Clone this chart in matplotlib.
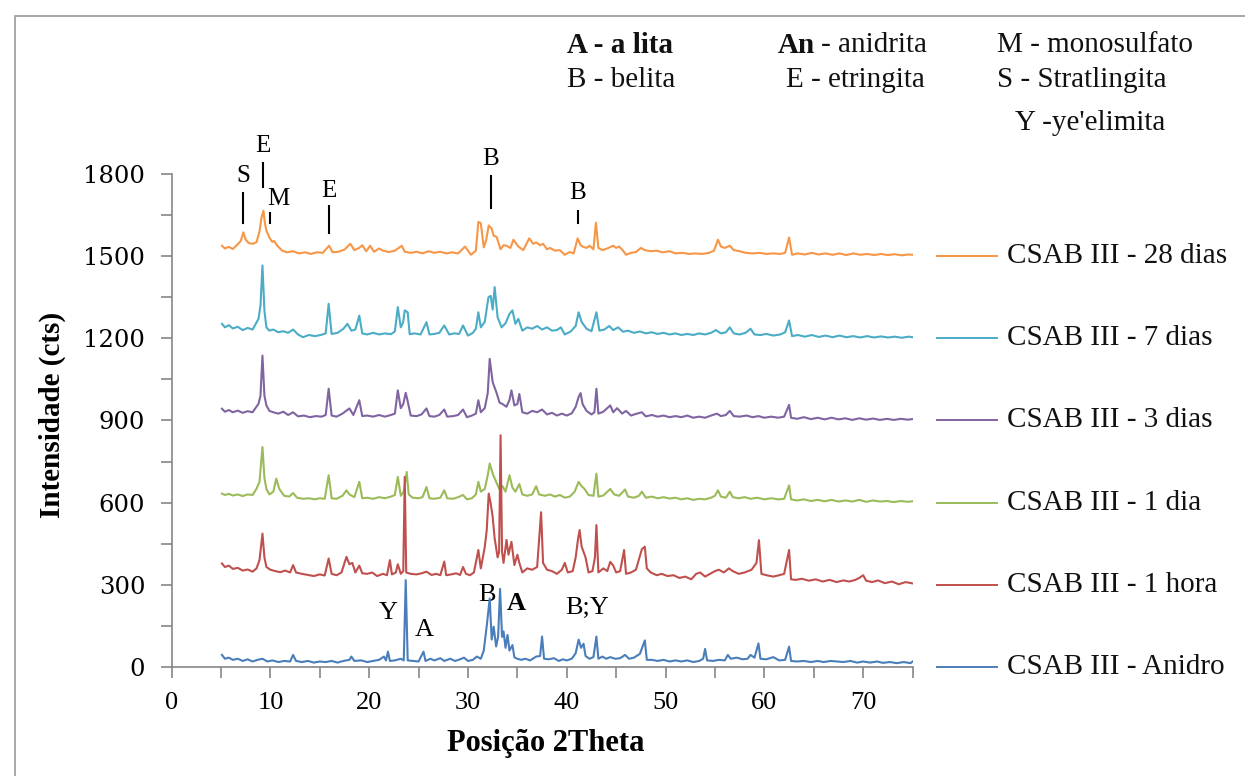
import matplotlib.pyplot as plt
from matplotlib.transforms import blended_transform_factory
from matplotlib.patches import Rectangle

# XRD patterns, (2theta, counts); each sample already carries its vertical offset
anidro = [
    (5.1, 44), (5.4, 30), (5.8, 34), (6.2, 26), (6.7, 30), (7.2, 22), (7.7, 28), (8.2, 20), (8.7, 26),
    (9.2, 30), (9.7, 20), (10.2, 24), (10.8, 18), (11.4, 22), (12.0, 20), (12.3, 44), (12.6, 22),
    (13.2, 18), (13.8, 22), (14.4, 16), (15.0, 20), (15.6, 18), (16.2, 22), (16.8, 16), (17.4, 22),
    (18.0, 26), (18.2, 38), (18.5, 22), (19.2, 24), (19.8, 18), (20.4, 22), (21.0, 26), (21.5, 38),
    (21.7, 24), (21.9, 56), (22.1, 22), (22.6, 24), (23.2, 30), (23.5, 24), (23.7, 317), (23.9, 24),
    (24.4, 22), (25.0, 20), (25.5, 56), (25.7, 22), (26.2, 30), (26.6, 24), (27.2, 32), (27.6, 22),
    (28.2, 30), (28.7, 22), (29.2, 28), (29.6, 34), (30.0, 22), (30.5, 26), (30.9, 38), (31.3, 30),
    (31.6, 60), (31.9, 150), (32.2, 250), (32.4, 100), (32.6, 147), (32.85, 75), (33.05, 110),
    (33.25, 285), (33.45, 110), (33.6, 130), (33.8, 70), (34.0, 117), (34.2, 60), (34.5, 80),
    (34.7, 35), (35.0, 30), (35.4, 26), (35.8, 30), (36.3, 24), (36.9, 38), (37.3, 40), (37.5, 111),
    (37.7, 30), (38.2, 28), (38.7, 32), (39.2, 22), (39.6, 28), (40.0, 24), (40.5, 30), (40.9, 50),
    (41.2, 100), (41.45, 70), (41.7, 85), (41.9, 40), (42.3, 30), (42.7, 36), (43.0, 111), (43.2, 30),
    (43.6, 38), (44.0, 30), (44.4, 36), (44.9, 30), (45.4, 32), (45.9, 44), (46.3, 30), (46.8, 34),
    (47.4, 48), (47.9, 97), (48.1, 26), (48.6, 26), (49.2, 22), (49.8, 26), (50.4, 20), (51.0, 24),
    (51.6, 20), (52.2, 24), (52.8, 18), (53.4, 22), (53.8, 30), (54.0, 66), (54.2, 24), (54.8, 22),
    (55.4, 26), (56.0, 24), (56.3, 44), (56.6, 30), (57.2, 34), (57.8, 28), (58.3, 30), (58.6, 44),
    (59.0, 34), (59.4, 86), (59.6, 30), (60.2, 28), (60.9, 36), (61.5, 24), (62.1, 26), (62.5, 74),
    (62.7, 22), (63.3, 20), (64.0, 22), (64.7, 18), (65.4, 22), (66.0, 18), (66.7, 22), (67.4, 20),
    (68.0, 18), (68.7, 22), (69.4, 16), (70.0, 20), (70.7, 16), (71.4, 20), (72.0, 15), (72.7, 18),
    (73.4, 14), (74.1, 18), (74.8, 14), (75.0, 20),
]

uma_hora = [
    (5.1, 378), (5.4, 365), (5.8, 370), (6.2, 358), (6.7, 362), (7.2, 352), (7.7, 356), (8.2, 348),
    (8.6, 360), (8.9, 390), (9.2, 487), (9.4, 400), (9.6, 365), (10.0, 355), (10.5, 350), (11.0, 346),
    (11.5, 352), (12.0, 345), (12.3, 372), (12.6, 345), (13.2, 340), (13.8, 336), (14.4, 332),
    (15.0, 338), (15.5, 334), (15.9, 396), (16.2, 340), (16.7, 335), (17.2, 345), (17.7, 402),
    (18.0, 375), (18.3, 380), (18.6, 345), (19.0, 370), (19.3, 342), (19.8, 340), (20.3, 345),
    (20.8, 332), (21.4, 340), (21.8, 335), (22.1, 390), (22.3, 338), (22.7, 345), (22.9, 375),
    (23.2, 340), (23.45, 350), (23.6, 694), (23.75, 345), (24.2, 340), (24.8, 338), (25.3, 342),
    (25.8, 348), (26.3, 336), (26.8, 340), (27.2, 335), (27.6, 385), (27.8, 335), (28.3, 338),
    (28.8, 342), (29.2, 336), (29.5, 365), (29.8, 340), (30.2, 335), (30.6, 345), (31.05, 427),
    (31.3, 360), (31.7, 438), (31.9, 500), (32.1, 633), (32.3, 597), (32.5, 548), (32.7, 470),
    (33.0, 400), (33.15, 420), (33.3, 846), (33.45, 420), (33.6, 380), (33.9, 464), (34.1, 410),
    (34.4, 457), (34.7, 372), (35.0, 410), (35.2, 380), (35.5, 345), (36.0, 360), (36.5, 355),
    (37.0, 365), (37.4, 565), (37.6, 380), (38.0, 355), (38.5, 350), (39.0, 340), (39.5, 355),
    (39.8, 380), (40.1, 345), (40.6, 350), (40.9, 400), (41.15, 470), (41.3, 500), (41.5, 440),
    (41.7, 420), (41.9, 400), (42.2, 345), (42.6, 350), (42.85, 400), (43.0, 518), (43.2, 345),
    (43.7, 360), (44.1, 350), (44.4, 384), (44.7, 370), (45.0, 345), (45.4, 350), (45.8, 427),
    (46.0, 340), (46.5, 345), (47.0, 355), (47.6, 430), (47.9, 439), (48.1, 360), (48.5, 345),
    (49.1, 335), (49.6, 340), (50.2, 332), (50.8, 335), (51.4, 325), (52.0, 330), (52.6, 320),
    (53.1, 340), (53.5, 345), (54.0, 330), (54.5, 340), (55.0, 350), (55.4, 355), (55.9, 345),
    (56.4, 360), (56.8, 350), (57.4, 340), (58.0, 345), (58.7, 355), (59.2, 380), (59.45, 463),
    (59.7, 340), (60.2, 335), (60.9, 330), (61.5, 335), (62.0, 340), (62.5, 427), (62.7, 320),
    (63.2, 318), (63.8, 322), (64.5, 315), (65.2, 320), (65.9, 312), (66.6, 318), (67.3, 310),
    (68.0, 316), (68.6, 312), (69.2, 318), (69.6, 325), (70.0, 335), (70.3, 315), (70.9, 310),
    (71.5, 316), (72.2, 306), (72.9, 312), (73.6, 302), (74.3, 310), (75.0, 305),
]

um_dia = [
    (5.1, 633), (5.4, 628), (5.8, 632), (6.2, 626), (6.7, 630), (7.2, 624), (7.7, 630), (8.2, 628),
    (8.6, 651), (8.9, 676), (9.2, 803), (9.4, 690), (9.6, 650), (9.9, 630), (10.3, 640), (10.6, 688),
    (10.9, 650), (11.4, 625), (11.9, 622), (12.3, 635), (12.7, 618), (13.3, 614), (13.9, 616),
    (14.5, 612), (15.0, 616), (15.5, 614), (15.9, 700), (16.2, 616), (16.7, 614), (17.3, 625),
    (17.7, 645), (18.0, 630), (18.5, 620), (19.0, 676), (19.3, 616), (19.8, 618), (20.4, 614),
    (21.0, 620), (21.6, 616), (22.2, 622), (22.6, 628), (22.9, 694), (23.2, 625), (23.5, 640),
    (23.8, 712), (24.0, 630), (24.4, 618), (25.0, 616), (25.4, 620), (25.8, 657), (26.1, 616),
    (26.6, 614), (27.2, 618), (27.6, 645), (27.9, 616), (28.5, 614), (29.0, 620), (29.5, 628),
    (29.9, 612), (30.4, 616), (30.8, 630), (31.05, 676), (31.3, 640), (31.7, 650), (32.0, 700),
    (32.2, 743), (32.5, 706), (32.9, 672), (33.2, 648), (33.5, 660), (33.8, 640), (34.2, 700),
    (34.5, 655), (34.8, 640), (35.2, 668), (35.5, 630), (36.0, 625), (36.5, 630), (36.9, 660),
    (37.2, 630), (37.8, 625), (38.3, 630), (38.8, 622), (39.3, 628), (39.8, 618), (40.3, 622),
    (40.8, 640), (41.2, 676), (41.5, 660), (41.8, 650), (42.2, 628), (42.7, 625), (43.0, 706),
    (43.2, 622), (43.7, 626), (44.4, 650), (44.8, 630), (45.3, 625), (45.9, 648), (46.2, 622),
    (46.8, 618), (47.3, 625), (47.6, 640), (48.0, 618), (48.6, 622), (49.2, 616), (49.8, 620),
    (50.4, 615), (51.0, 618), (51.6, 612), (52.2, 616), (52.8, 610), (53.4, 614), (54.0, 612),
    (54.6, 618), (55.0, 625), (55.3, 645), (55.6, 622), (56.1, 618), (56.5, 640), (56.8, 620),
    (57.4, 616), (58.0, 620), (58.6, 614), (59.3, 618), (60.0, 612), (60.7, 616), (61.4, 612),
    (62.0, 614), (62.5, 663), (62.7, 612), (63.3, 608), (64.0, 612), (64.7, 606), (65.4, 610),
    (66.1, 605), (66.8, 610), (67.5, 604), (68.2, 608), (68.9, 604), (69.6, 610), (70.3, 603),
    (71.0, 608), (71.7, 604), (72.4, 606), (73.1, 602), (73.8, 606), (74.5, 603), (75.0, 605),
]

tres_dias = [
    (5.1, 943), (5.4, 932), (5.8, 938), (6.2, 930), (6.7, 936), (7.2, 928), (7.7, 934), (8.2, 930),
    (8.8, 961), (9.0, 990), (9.2, 1137), (9.4, 990), (9.6, 955), (9.9, 935), (10.3, 930), (10.8, 925),
    (11.3, 932), (11.8, 920), (12.3, 930), (12.8, 915), (13.4, 918), (14.0, 912), (14.6, 916),
    (15.2, 914), (15.6, 920), (15.9, 1016), (16.2, 918), (16.7, 914), (17.3, 925), (18.0, 944),
    (18.4, 920), (19.0, 974), (19.3, 916), (19.8, 918), (20.4, 914), (21.0, 920), (21.6, 914),
    (22.2, 920), (22.6, 925), (22.9, 1010), (23.2, 945), (23.45, 960), (23.7, 1001), (23.9, 970),
    (24.2, 918), (24.8, 916), (25.3, 922), (25.8, 944), (26.1, 916), (26.6, 914), (27.1, 920),
    (27.6, 940), (27.9, 914), (28.5, 916), (29.0, 920), (29.5, 940), (29.9, 912), (30.4, 918),
    (30.8, 925), (31.05, 974), (31.3, 930), (31.7, 945), (32.0, 1000), (32.2, 1125), (32.5, 1040),
    (32.9, 1000), (33.2, 965), (33.5, 960), (33.9, 950), (34.2, 975), (34.4, 1010), (34.7, 955),
    (35.0, 960), (35.2, 997), (35.5, 930), (36.0, 925), (36.5, 935), (37.0, 930), (37.5, 940),
    (38.0, 922), (38.5, 928), (39.0, 918), (39.5, 925), (40.0, 918), (40.5, 926), (40.9, 950),
    (41.2, 986), (41.4, 1000), (41.6, 960), (42.0, 935), (42.5, 922), (42.8, 930), (43.0, 1016),
    (43.2, 925), (43.7, 932), (44.4, 955), (44.7, 930), (45.1, 945), (45.6, 925), (46.0, 935),
    (46.5, 918), (47.0, 924), (47.6, 930), (48.0, 915), (48.6, 920), (49.2, 914), (49.8, 918),
    (50.4, 912), (51.0, 916), (51.6, 912), (52.2, 918), (52.8, 910), (53.4, 914), (54.0, 910),
    (54.6, 918), (55.2, 925), (55.6, 916), (56.1, 920), (56.5, 935), (56.9, 916), (57.5, 914),
    (58.2, 918), (58.8, 912), (59.4, 916), (60.0, 910), (60.7, 914), (61.4, 910), (62.0, 914),
    (62.5, 957), (62.7, 910), (63.3, 906), (64.0, 912), (64.7, 905), (65.4, 910), (66.1, 904),
    (66.8, 910), (67.5, 904), (68.2, 908), (68.9, 902), (69.6, 908), (70.3, 903), (71.0, 907),
    (71.7, 902), (72.4, 906), (73.1, 902), (73.8, 906), (74.5, 903), (75.0, 905),
]

sete_dias = [
    (5.1, 1253), (5.4, 1240), (5.8, 1248), (6.2, 1236), (6.7, 1242), (7.2, 1230), (7.7, 1238),
    (8.2, 1232), (8.8, 1271), (9.0, 1320), (9.2, 1466), (9.4, 1300), (9.6, 1240), (9.9, 1228),
    (10.3, 1232), (10.8, 1222), (11.3, 1226), (11.8, 1220), (12.3, 1232), (12.8, 1214), (13.3, 1204),
    (13.9, 1212), (14.5, 1208), (15.1, 1212), (15.6, 1218), (15.9, 1326), (16.2, 1216), (16.8, 1220),
    (17.4, 1235), (17.8, 1253), (18.2, 1228), (18.6, 1232), (19.0, 1283), (19.3, 1218), (19.8, 1214),
    (20.4, 1220), (21.0, 1214), (21.6, 1218), (22.2, 1215), (22.6, 1225), (22.9, 1314), (23.2, 1240),
    (23.45, 1260), (23.6, 1302), (23.9, 1295), (24.1, 1215), (24.6, 1218), (25.2, 1214), (25.8, 1259),
    (26.1, 1214), (26.6, 1216), (27.1, 1220), (27.6, 1247), (28.1, 1214), (28.6, 1218), (29.1, 1216),
    (29.5, 1247), (30.0, 1210), (30.5, 1220), (30.8, 1235), (31.05, 1295), (31.3, 1240), (31.7, 1260),
    (32.07, 1350), (32.3, 1355), (32.5, 1305), (32.7, 1387), (33.0, 1277), (33.4, 1240), (33.8, 1255),
    (34.2, 1289), (34.5, 1302), (34.8, 1253), (35.1, 1271), (35.5, 1228), (36.0, 1240), (36.5, 1235),
    (37.0, 1245), (37.5, 1232), (38.0, 1240), (38.5, 1228), (39.0, 1230), (39.4, 1240), (39.8, 1214),
    (40.4, 1225), (40.9, 1245), (41.2, 1295), (41.5, 1260), (42.0, 1235), (42.5, 1226), (43.0, 1295),
    (43.3, 1228), (43.8, 1232), (44.3, 1245), (44.7, 1230), (45.2, 1240), (45.7, 1224), (46.2, 1228),
    (46.8, 1220), (47.4, 1225), (48.0, 1218), (48.6, 1222), (49.2, 1216), (49.8, 1220), (50.4, 1214),
    (51.0, 1218), (51.6, 1212), (52.2, 1216), (52.8, 1212), (53.4, 1218), (54.0, 1214), (54.6, 1220),
    (55.1, 1230), (55.6, 1218), (56.1, 1222), (56.5, 1240), (56.9, 1218), (57.5, 1214), (58.1, 1220),
    (58.6, 1235), (59.0, 1214), (59.6, 1212), (60.2, 1216), (60.9, 1210), (61.6, 1214), (62.1, 1222),
    (62.5, 1265), (62.8, 1208), (63.4, 1212), (64.1, 1206), (64.8, 1212), (65.5, 1205), (66.2, 1210),
    (66.9, 1204), (67.6, 1210), (68.3, 1204), (69.0, 1208), (69.7, 1203), (70.4, 1208), (71.1, 1203),
    (71.8, 1207), (72.5, 1203), (73.2, 1206), (73.9, 1202), (74.6, 1206), (75.0, 1204),
]

vinte_oito_dias = [
    (5.1, 1538), (5.4, 1528), (5.8, 1534), (6.2, 1526), (6.6, 1540), (7.0, 1555), (7.27, 1587),
    (7.5, 1560), (7.8, 1548), (8.2, 1545), (8.6, 1551), (8.9, 1590), (9.1, 1640), (9.3, 1666),
    (9.45, 1620), (9.6, 1593), (9.9, 1568), (10.2, 1552), (10.4, 1555), (10.7, 1538), (11.2, 1520),
    (11.7, 1514), (12.3, 1518), (12.9, 1510), (13.5, 1514), (14.1, 1508), (14.7, 1514), (15.3, 1512),
    (15.95, 1538), (16.3, 1514), (16.9, 1516), (17.5, 1524), (18.1, 1545), (18.5, 1522), (19.0, 1530),
    (19.3, 1540), (19.7, 1518), (20.1, 1538), (20.5, 1516), (21.0, 1528), (21.4, 1520), (22.0, 1515),
    (22.6, 1520), (23.3, 1538), (23.6, 1516), (24.2, 1512), (24.8, 1516), (25.4, 1510), (26.0, 1518),
    (26.6, 1512), (27.2, 1516), (27.8, 1510), (28.4, 1514), (29.0, 1510), (29.7, 1535), (30.3, 1505),
    (30.8, 1520), (31.05, 1625), (31.3, 1620), (31.6, 1532), (31.85, 1560), (32.1, 1612), (32.4, 1600),
    (32.6, 1575), (32.9, 1570), (33.3, 1525), (33.6, 1540), (33.9, 1538), (34.3, 1530), (34.6, 1560),
    (35.1, 1535), (35.6, 1522), (36.2, 1565), (36.6, 1545), (36.9, 1550), (37.3, 1540), (37.6, 1545),
    (38.0, 1525), (38.3, 1530), (38.8, 1520), (39.3, 1522), (39.8, 1505), (40.3, 1515), (40.7, 1510),
    (41.1, 1565), (41.4, 1540), (41.6, 1535), (42.0, 1530), (42.3, 1538), (42.7, 1525), (42.95, 1622),
    (43.2, 1530), (43.6, 1522), (44.1, 1528), (44.7, 1538), (45.0, 1530), (45.3, 1535), (45.7, 1520),
    (46.0, 1505), (46.5, 1512), (47.0, 1515), (47.5, 1530), (47.9, 1522), (48.5, 1518), (49.1, 1520),
    (49.7, 1514), (50.4, 1518), (51.0, 1510), (51.7, 1512), (52.4, 1508), (53.0, 1510), (53.7, 1508),
    (54.4, 1512), (54.9, 1520), (55.3, 1560), (55.6, 1535), (56.0, 1530), (56.5, 1538), (56.9, 1522),
    (57.5, 1518), (58.1, 1512), (58.8, 1510), (59.5, 1512), (60.2, 1508), (60.9, 1510), (61.6, 1508),
    (62.1, 1512), (62.5, 1568), (62.8, 1505), (63.4, 1510), (64.1, 1506), (64.8, 1512), (65.5, 1506),
    (66.2, 1510), (66.9, 1505), (67.6, 1510), (68.3, 1504), (69.0, 1510), (69.7, 1505), (70.4, 1508),
    (71.1, 1504), (71.8, 1508), (72.5, 1504), (73.2, 1507), (73.9, 1503), (74.6, 1506), (75.0, 1505),
]

series = [vinte_oito_dias, sete_dias, tres_dias, um_dia, uma_hora, anidro]
labels = ['CSAB III - 28 dias', 'CSAB III - 7 dias', 'CSAB III - 3 dias',
          'CSAB III - 1 dia', 'CSAB III - 1 hora', 'CSAB III - Anidro']
label_levels = [1500, 1200, 900, 600, 300, 0]
colors = ['#F79646', '#4BACC6', '#8064A2', '#9BBB59', '#C0504D', '#4A7EBB']

# phase markers: (text, 2theta, text y, line bottom, line top)
top_marks = [('S', 7.24, 1794, 1622, 1732), ('E', 9.2, 1903, 1754, 1841),
             ('M', 10.8, 1710, 1622, 1659), ('E', 15.94, 1739, 1586, 1684),
             ('B', 32.34, 1856, 1677, 1794), ('B', 41.14, 1732, 1622, 1666)]
top_mark_line_x = [7.24, 9.26, 9.97, 15.94, 32.34, 41.14]
bottom_marks = [('Y', 21.9, 197, 'normal'), ('A', 25.55, 135, 'normal'), ('B', 31.93, 262, 'normal'),
                ('A', 34.87, 233, 'bold'), ('B;Y', 42.05, 215, 'normal')]

serif = 'Liberation Serif'
grey = '#868686'

fig = plt.figure(figsize=(12.45, 7.76), dpi=100)
fig.patches.append(Rectangle((0.012, -0.05), 1.2, 0.04 + 0.9897, transform=fig.transFigure,
                             fill=False, edgecolor='#9a9a9a', linewidth=1.2))
ax = fig.add_axes([0.1378, 0.1405, 0.5952, 0.6353])

for data, color, z in zip(series, colors, [2, 3, 4, 5, 6, 7]):
    tt, counts = zip(*data)
    ax.plot(tt, counts, color=color, linewidth=1.5, zorder=z)

ax.set_xlim(0, 75)
ax.set_ylim(0, 1800)
ax.set_xticks(range(0, 71, 10))
ax.set_xticks(range(5, 76, 10), minor=True)
ax.set_yticks(range(0, 1801, 300))
ax.set_yticks(range(150, 1800, 300), minor=True)
for side in ['top', 'right']:
    ax.spines[side].set_visible(False)
for side in ['left', 'bottom']:
    ax.spines[side].set_color(grey)
    ax.spines[side].set_linewidth(1.2)
ax.tick_params(which='both', direction='out', length=8, width=1.2, color=grey)
ax.tick_params(axis='x', pad=10)
ax.tick_params(axis='y', pad=11)
for lab in ax.get_xticklabels():
    lab.set_fontfamily(serif)
    lab.set_fontsize(19)
for lab in ax.get_yticklabels():
    lab.set_fontfamily('DejaVu Serif')
    lab.set_fontsize(17.5)

fig.text(0.042, 0.465, 'Intensidade (cts)', rotation=90, ha='center', va='center',
         fontfamily=serif, fontweight='bold', fontsize=21)
fig.text(0.4386, 0.042, 'Posição 2Theta', ha='center', va='center',
         fontfamily=serif, fontweight='bold', fontsize=22)

# legend drawn at each pattern's level
trans = blended_transform_factory(ax.transAxes, ax.transData)
for lab, lvl, color in zip(labels, label_levels, colors):
    ax.plot([1.033, 1.114], [lvl, lvl], color=color, linewidth=1.4, transform=trans, clip_on=False)
    ax.text(1.127, lvl, lab, transform=trans, ha='left', va='center', fontfamily=serif,
            fontsize=21, color='#111111')

for (txt, x, ty, y0, y1), lx in zip(top_marks, top_mark_line_x):
    ax.text(x, ty, txt, ha='center', va='center', fontfamily=serif, fontsize=18, clip_on=False)
    ax.plot([lx, lx], [y0, y1], color='black', linewidth=1.5, clip_on=False)
for txt, x, y, w in bottom_marks:
    ax.text(x, y, txt, ha='center', va='center', fontfamily=serif, fontsize=19, fontweight=w)

# phase key at the top
key = [(0.4555, 0.942, 'A - a lita', 'bold'), (0.6249, 0.942, 'An', 'bold'),
       (0.6595, 0.942, '- anidrita', 'normal'), (0.8008, 0.942, 'M - monosulfato', 'normal'),
       (0.4555, 0.897, 'B - belita', 'normal'), (0.6313, 0.897, 'E - etringita', 'normal'),
       (0.8008, 0.897, 'S - Stratlingita', 'normal'), (0.8153, 0.842, "Y -ye'elimita", 'normal')]
for x, y, txt, w in key:
    fig.text(x, y, txt, ha='left', va='center', fontfamily=serif, fontsize=21, fontweight=w,
             color='#111111')

fig.savefig('out.png', dpi=100)
